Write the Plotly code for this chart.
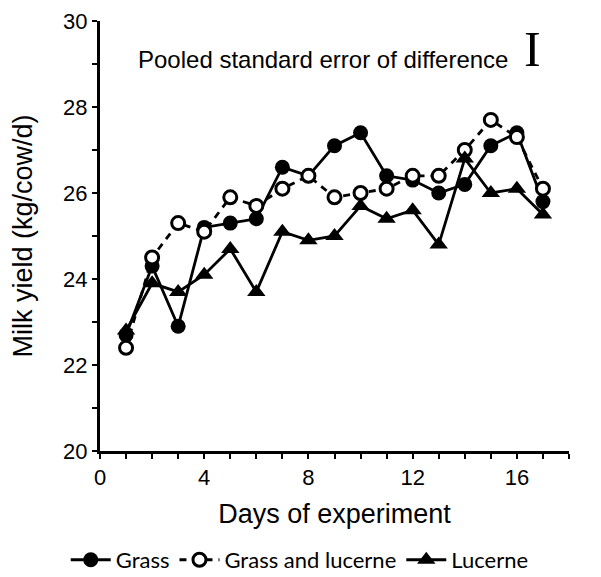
import plotly.graph_objects as go

days = list(range(1, 18))
grass = [22.7, 24.3, 22.9, 25.2, 25.3, 25.4, 26.6, 26.4, 27.1, 27.4, 26.4, 26.3, 26.0, 26.2, 27.1, 27.4, 25.8]
grass_lucerne = [22.4, 24.5, 25.3, 25.1, 25.9, 25.7, 26.1, 26.4, 25.9, 26.0, 26.1, 26.4, 26.4, 27.0, 27.7, 27.3, 26.1]
lucerne = [22.8, 23.9, 23.7, 24.1, 24.7, 23.7, 25.1, 24.9, 25.0, 25.7, 25.4, 25.6, 24.8, 26.8, 26.0, 26.1, 25.5]

fig = go.Figure()
fig.add_trace(go.Scatter(x=days, y=grass, name="Grass", mode="lines+markers",
                         line=dict(color="black", width=2.8),
                         marker=dict(symbol="circle", size=15, color="black")))
fig.add_trace(go.Scatter(x=days, y=grass_lucerne, name="Grass and lucerne", mode="lines+markers",
                         line=dict(color="black", width=2.8, dash="7px,6px"),
                         marker=dict(symbol="circle", size=13, color="white",
                                     line=dict(color="black", width=3))))
fig.add_trace(go.Scatter(x=days, y=lucerne, name="Lucerne", mode="lines+markers",
                         line=dict(color="black", width=2.8),
                         marker=dict(symbol="triangle-up", size=16, color="black")))

fig.add_annotation(x=1.4, y=29.1, xref="x", yref="y", xanchor="left", yanchor="middle",
                   text="Pooled standard error of difference", showarrow=False,
                   font=dict(family="Liberation Sans, Arial", size=24, color="black"))
fig.add_annotation(x=16.6, y=29.35, xref="x", yref="y", xanchor="center", yanchor="middle",
                   text="I", showarrow=False,
                   font=dict(family="Liberation Serif, Times New Roman", size=50, color="black"))

axis_common = dict(showline=True, linewidth=3, linecolor="black", ticks="outside",
                   ticklen=5, tickwidth=2, tickcolor="black", showgrid=False, zeroline=False,
                   automargin=False,
                   tickfont=dict(family="Liberation Sans, Arial", size=22, color="black"))

fig.update_xaxes(range=[0, 18], dtick=4, tick0=0,
                 minor=dict(dtick=1, ticks="outside", ticklen=5, tickwidth=2, tickcolor="black", showgrid=False),
                 title=dict(text="Days of experiment", font=dict(family="Liberation Sans, Arial", size=27, color="black"), standoff=15),
                 **axis_common)
fig.update_yaxes(range=[20, 30], dtick=2, tick0=20,
                 minor=dict(dtick=1, ticks="outside", ticklen=5, tickwidth=2, tickcolor="black", showgrid=False),
                 title=dict(text="Milk yield (kg/cow/d)", font=dict(family="Liberation Sans, Arial", size=27, color="black"), standoff=26),
                 **axis_common)

# the page has an 8px body margin, so the figure is sized to fit the window from (8, 8)
fig.update_layout(width=593, height=569, plot_bgcolor="white", paper_bgcolor="white",
                  margin=dict(l=92, r=32, t=13, b=126),
                  showlegend=True,
                  legend=dict(orientation="h", xref="container", yref="container",
                              x=0.492, xanchor="center", y=0.03, yanchor="middle",
                              font=dict(family="Lato, Carlito, Calibri", size=22, color="black"),
                              itemwidth=40, tracegroupgap=0))

fig.write_html("out.html")
